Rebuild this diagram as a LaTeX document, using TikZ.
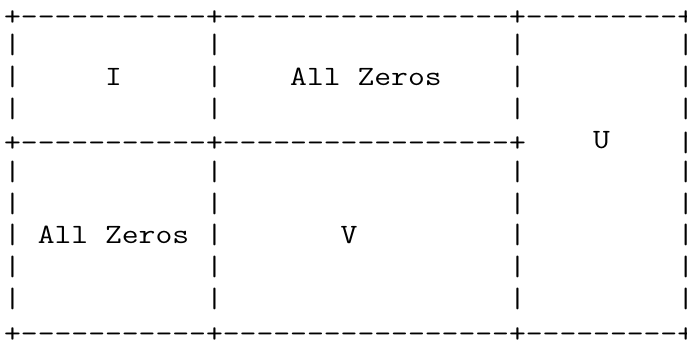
\documentclass[tikz,border=0pt]{standalone}
\usepackage{fontspec}
\usepackage{graphicx}
\newcommand\asciiline[1]{\scalebox{1.168}[1]{#1}}
\tikzset{
  asciirow/.style={anchor=base west, inner sep=0pt, outer sep=0pt,
    font=\ttfamily\fontsize{27.98pt}{31.67pt}\selectfont}
}
\begin{document}
\begin{tikzpicture}[x=1pt,y=-1pt]
\useasboundingbox (0,0) rectangle (687,340);
\def\rowy#1{22.3+#1*31.67}
\node[asciirow] (r0) at (4.1,{\rowy{0}+3}) {\asciiline{+-----------+-----------------+---------+}};
\node[asciirow] (r1) at (4.1,{\rowy{1}}) {\asciiline{|~~~~~~~~~~~|~~~~~~~~~~~~~~~~~|~~~~~~~~~|}};
\node[asciirow] (r2) at (4.1,{\rowy{2}}) {\asciiline{|~~~~~I~~~~~|~~~~All~Zeros~~~~|~~~~~~~~~|}};
\node[asciirow] (r3) at (4.1,{\rowy{3}}) {\asciiline{|~~~~~~~~~~~|~~~~~~~~~~~~~~~~~|~~~~~~~~~|}};
\node[asciirow] (r4) at (4.1,{\rowy{4}+3}) {\asciiline{+-----------+-----------------+~~~~\raisebox{3pt}{U}~~~~|}};
\node[asciirow] (r5) at (4.1,{\rowy{5}}) {\asciiline{|~~~~~~~~~~~|~~~~~~~~~~~~~~~~~|~~~~~~~~~|}};
\node[asciirow] (r6) at (4.1,{\rowy{6}}) {\asciiline{|~~~~~~~~~~~|~~~~~~~~~~~~~~~~~|~~~~~~~~~|}};
\node[asciirow] (r7) at (4.1,{\rowy{7}}) {\asciiline{|~All~Zeros~|~~~~~~~V~~~~~~~~~|~~~~~~~~~|}};
\node[asciirow] (r8) at (4.1,{\rowy{8}}) {\asciiline{|~~~~~~~~~~~|~~~~~~~~~~~~~~~~~|~~~~~~~~~|}};
\node[asciirow] (r9) at (4.1,{\rowy{9}}) {\asciiline{|~~~~~~~~~~~|~~~~~~~~~~~~~~~~~|~~~~~~~~~|}};
\node[asciirow] (r10) at (4.1,{\rowy{10}+3}) {\asciiline{+-----------+-----------------+---------+}};
\end{tikzpicture}
\end{document}
